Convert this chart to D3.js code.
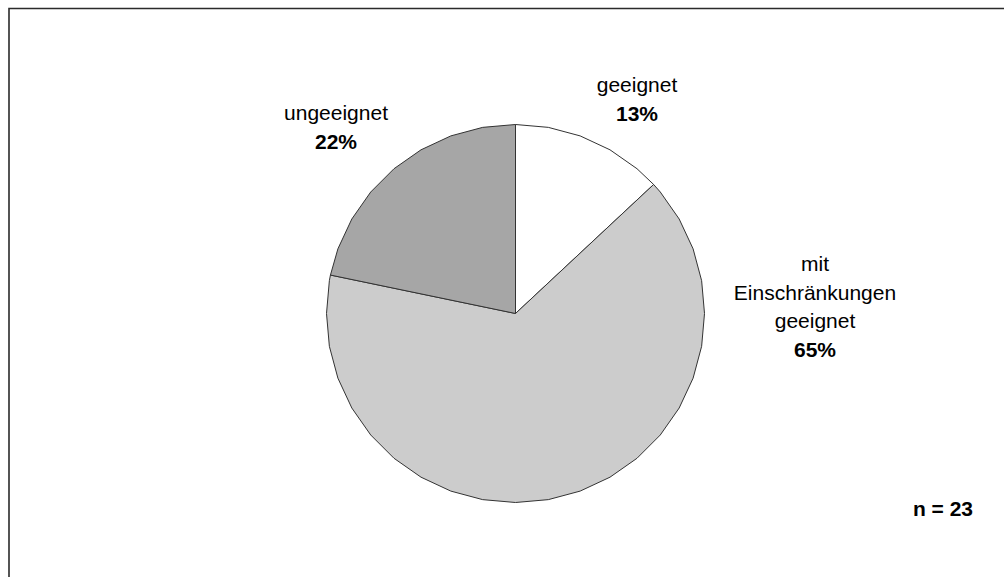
<!DOCTYPE html>
<html>
<head>
<meta charset="utf-8">
<script src="https://cdn.jsdelivr.net/npm/d3@7"></script>
<style>
  html, body { margin: 0; padding: 0; background: #fff; }
  svg { display: block; }
  text { font-family: "Liberation Sans", Arial, sans-serif; fill: #000; }
</style>
</head>
<body>
<svg id="chart" width="1004" height="577"></svg>
<script>
// Eignung – Anzahl der Nennungen (n = 23)
const categories = ["geeignet", "mit Einschränkungen geeignet", "ungeeignet"];
const counts = [3, 15, 5];
const labelLines = [["geeignet"], ["mit", "Einschränkungen", "geeignet"], ["ungeeignet"]];
const fills = ["#ffffff", "#cccccc", "#a6a6a6"];
const sampleNote = "n = 23";

const W = 1004, H = 577;
const cx = 515.5, cy = 313.5, r = 189;
const svg = d3.select("#chart");

// outer frame (only top and left edges fall inside the page)
svg.append("path")
  .attr("d", `M9,${H + 2} V8.5 H${W + 2}`)
  .attr("fill", "none")
  .attr("stroke", "#2b2b2b")
  .attr("stroke-width", 1.6);

const total = d3.sum(counts);
const pie = d3.pie().sort(null).value(d => d)(counts);

// slices are drawn as faceted wedges: the rim is a polygon with a vertex every 10°
const step = Math.PI / 18;
const radial = d3.lineRadial()
  .angle(p => p[0])
  .radius(p => p[1])
  .curve(d3.curveLinearClosed);
function wedge(d) {
  const pts = [[0, 0], [d.startAngle, r]];
  for (let a = Math.ceil(d.startAngle / step + 1e-6) * step; a < d.endAngle - 1e-6; a += step) {
    pts.push([a, r]);
  }
  pts.push([d.endAngle, r]);
  return radial(pts);
}

const g = svg.append("g").attr("transform", `translate(${cx},${cy})`);
g.selectAll("path.slice")
  .data(pie)
  .join("path")
  .attr("class", "slice")
  .attr("d", wedge)
  .attr("fill", (d, i) => fills[i])
  .attr("stroke", "#333")
  .attr("stroke-width", 1)
  .attr("stroke-linejoin", "round");

// label anchors: center x and baseline of the first line
const labelPos = [
  { x: 637, y: 92 },
  { x: 815, y: 271 },
  { x: 336, y: 120 }
];
const lineGap = 28.5;
const fmt = v => Math.round(v / total * 100) + "%";

pie.forEach((d, i) => {
  const lines = labelLines[i];
  const t = svg.append("text")
    .attr("text-anchor", "middle")
    .attr("font-size", 21);
  lines.forEach((ln, k) => {
    t.append("tspan")
      .attr("x", labelPos[i].x)
      .attr("y", labelPos[i].y + k * lineGap)
      .text(ln);
  });
  t.append("tspan")
    .attr("x", labelPos[i].x)
    .attr("y", labelPos[i].y + lines.length * lineGap)
    .attr("font-weight", "bold")
    .text(fmt(d.data));
});

svg.append("text")
  .attr("x", 973)
  .attr("y", 516)
  .attr("text-anchor", "end")
  .attr("font-size", 21)
  .attr("font-weight", "bold")
  .text(sampleNote);
</script>
</body>
</html>
